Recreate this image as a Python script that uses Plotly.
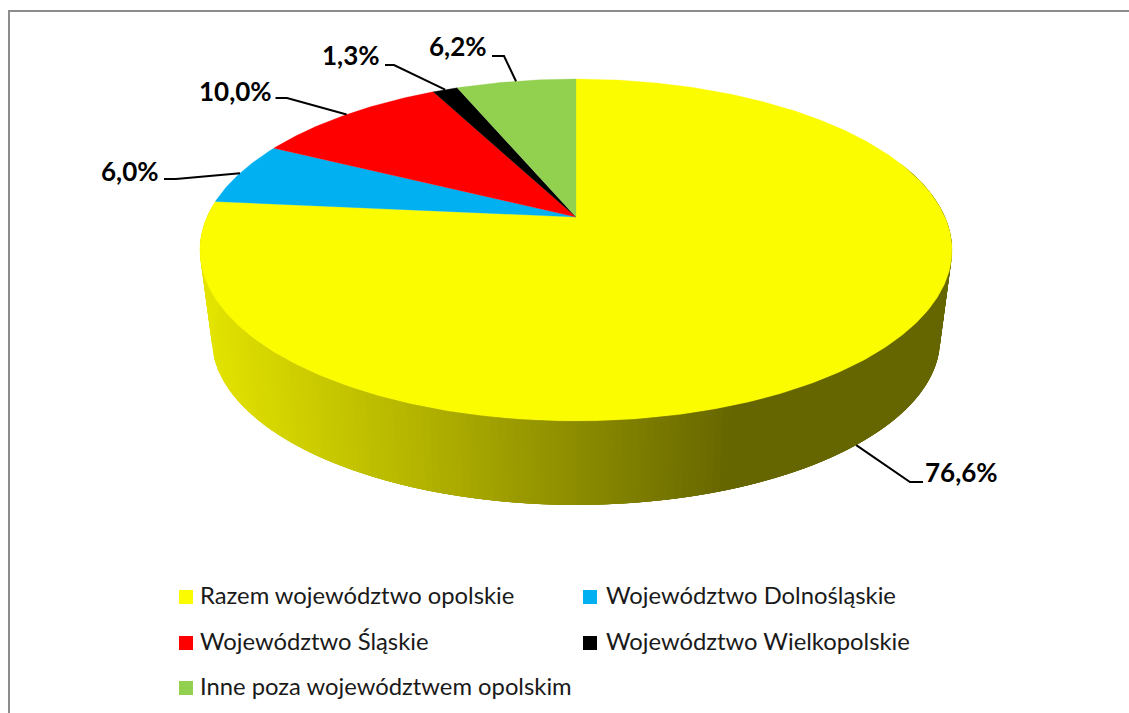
import numpy as np
import plotly.graph_objects as go

# ---- data ----
categories = ["Razem województwo opolskie", "Województwo Dolnośląskie", "Województwo Śląskie",
              "Województwo Wielkopolskie", "Inne poza województwem opolskim"]
values = [76.6, 6.0, 10.0, 1.3, 6.2]
labels = ["76,6%", "6,0%", "10,0%", "1,3%", "6,2%"]
colors = ["#FCFC00", "#00B0F0", "#FF0000", "#000000", "#92D050"]

# ---- 3D pie projection (pixel-space axes) ----
W, H = 1129, 713
CX, CY = 576, 217
RX, RY, K = 369, 164.6, 0.193
SCALE_B, DEPTH = 0.968, 90.5

def rim(phi, bottom=False):
    s = SCALE_B if bottom else 1.0
    d = 1 + K * np.cos(phi)
    return CX + s * RX * np.sin(phi) / d, CY + (DEPTH if bottom else 0) - s * RY * np.cos(phi) / d

def side_color(x):
    v = np.interp(x, [205, 400, 576, 730], [228, 184, 140, 102])
    return f"rgb({v:.0f},{v:.0f},0)"

fractions = np.array(values) / sum(values)
edges = np.concatenate([[0], np.cumsum(fractions)]) * 2 * np.pi
mids = (edges[:-1] + edges[1:]) / 2

fig = go.Figure()

# side wall of the first slice, painted right to left with overlapping strips
wall = np.linspace(np.radians(70), edges[1], 200)
for a, b in zip(wall[:-4], wall[4:]):
    ts = np.linspace(a, b, 5)
    x1, y1 = rim(ts)
    x2, y2 = rim(ts[::-1], bottom=True)
    c = side_color(float((x1[:2].mean() + x2[-2:].mean()) / 2))
    fig.add_trace(go.Scatter(x=[*x1, *x2, x1[0]], y=[*y1, *y2, y1[0]], mode="lines", fill="toself",
                             fillcolor=c, line=dict(color=c, width=0), hoverinfo="skip", showlegend=False))

# top faces
for i, c in enumerate(colors):
    t = np.linspace(edges[i], edges[i + 1], max(8, int(values[i] * 6)))
    x, y = rim(t)
    fig.add_trace(go.Scatter(x=[CX, *x, CX], y=[CY, *y, CY], mode="lines", fill="toself", fillcolor=c,
                             line=dict(color=c, width=0.3), name=categories[i], hoverinfo="skip", showlegend=False))

# leader lines: elbow and label placement relative to the pie
elbows = [(910, 482), (176, 179), (287, 98), (394, 65), (504, 56)]
ends = [(923, 482), (164, 179), (275.5, 98), (385, 65), (492, 56)]
label_pos = [(961, 472), (130, 171), (235, 91), (351, 55), (458, 46)]
for i in range(len(values)):
    sx, sy = rim(mids[i], bottom=(i == 0))
    fig.add_trace(go.Scatter(x=[sx, elbows[i][0], ends[i][0]], y=[sy, elbows[i][1], ends[i][1]], mode="lines",
                             line=dict(color="#000000", width=2), hoverinfo="skip", showlegend=False))
    fig.add_annotation(x=label_pos[i][0], y=label_pos[i][1], text=f"<b>{labels[i]}</b>", showarrow=False,
                       font=dict(family="Lato", size=26, color="#000000"))

# legend
leg_x = [186, 590, 186, 590, 186]
leg_y = [597, 597, 643, 643, 688]
text_x = [198, 604, 198, 604, 198]
for i in range(len(values)):
    fig.add_trace(go.Scatter(x=[leg_x[i]], y=[leg_y[i]], mode="markers",
                             marker=dict(symbol="square", size=14, color=colors[i]),
                             hoverinfo="skip", showlegend=False))
    fig.add_annotation(x=text_x[i], y=leg_y[i] - 2, text=categories[i], showarrow=False, xanchor="left",
                       font=dict(family="Lato", size=23.8, color="#1a1a1a"))

# outer frame: left and top edges only are in view
fig.add_shape(type="line", x0=9, y0=11, x1=W, y1=11, line=dict(color="#8C8C8C", width=2), layer="below")
fig.add_shape(type="line", x0=9, y0=10, x1=9, y1=H, line=dict(color="#8C8C8C", width=2), layer="below")

fig.update_layout(
    width=W, height=H, margin=dict(l=0, r=0, t=0, b=0), paper_bgcolor="white", plot_bgcolor="white",
    xaxis=dict(range=[0, W], visible=False, fixedrange=True),
    yaxis=dict(range=[H, 0], visible=False, fixedrange=True),
    showlegend=False,
)
fig.write_html("out.html", config={"displayModeBar": False},
               post_script="document.body.style.margin='0';document.documentElement.style.overflow='hidden';")
